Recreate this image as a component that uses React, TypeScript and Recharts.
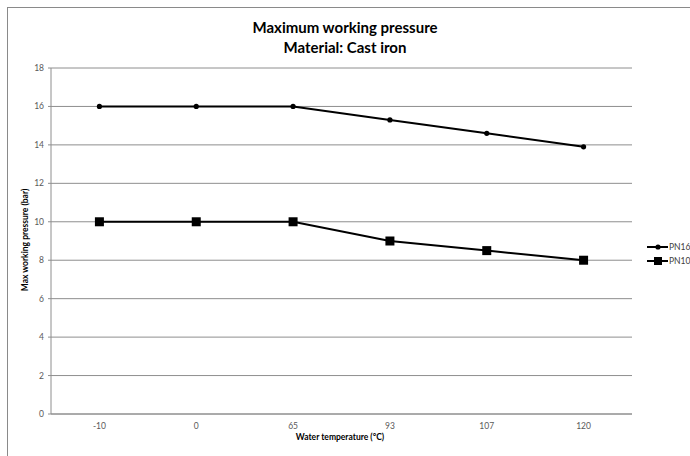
import { LineChart, Line, XAxis, YAxis, CartesianGrid, Legend } from 'recharts';

const temperatures = ['-10', '0', '65', '93', '107', '120'];
const pn16 = [16, 16, 16, 15.3, 14.6, 13.9];
const pn10 = [10, 10, 10, 9, 8.5, 8];
const yTicks = [0, 2, 4, 6, 8, 10, 12, 14, 16, 18];
const boundaryTicks = [0, 1, 2, 3, 4, 5, 6];

const data = temperatures.map((t, i) => ({ t, PN16: pn16[i], PN10: pn10[i] }));

const FONT = 'Lato, "Open Sans", sans-serif';
const GRID = '#8e8e8e';

const SquareDot = (props: any) => {
    const { cx, cy } = props;
    if (cx == null || cy == null) return null;
    return <rect x={cx - 4.5} y={cy - 4.5} width={9} height={9} fill="#000" />;
};

const LegendBox = () => (
    <div style={{ fontFamily: FONT, fontSize: 8.5, color: '#404040' }}>
        {[
            { name: 'PN16', square: false },
            { name: 'PN10', square: true },
        ].map((s) => (
            <div key={s.name} style={{ display: 'flex', alignItems: 'center', height: 14 }}>
                <svg width={22} height={10}>
                    <line x1={0} y1={5} x2={21} y2={5} stroke="#000" strokeWidth={2} />
                    {s.square ? (
                        <rect x={7} y={1} width={8} height={8} fill="#000" />
                    ) : (
                        <circle cx={11} cy={5} r={2.6} fill="#000" />
                    )}
                </svg>
                <span>{s.name}</span>
            </div>
        ))}
    </div>
);

export default function App() {
    return (
        <div style={{ position: 'absolute', left: 0, top: 0, width: 690, height: 456, overflow: 'hidden', background: '#fff' }}>
            <div style={{ position: 'absolute', left: 7, top: 7, width: 720, height: 480, border: '1px solid #8a8a8a' }} />
            <div
                style={{
                    position: 'absolute', left: 0, top: 17, width: 690, textAlign: 'center',
                    fontFamily: FONT, fontWeight: 'bold', fontSize: 15, lineHeight: '20px', color: '#000',
                }}
            >
                Maximum working pressure
                <br />
                Material: Cast iron
            </div>
            <LineChart
                width={690}
                height={456}
                data={data}
                style={{ position: 'absolute', left: 0, top: 0 }}
                margin={{ top: 68, right: 58, bottom: 22, left: 21 }}
            >
                <CartesianGrid vertical={false} stroke={GRID} strokeWidth={1} />
                <XAxis
                    xAxisId="bounds"
                    type="number"
                    domain={[0, 6]}
                    ticks={boundaryTicks}
                    height={0}
                    tick={false}
                    axisLine={false}
                    tickLine={{ stroke: GRID }}
                    tickSize={4}
                />
                <XAxis
                    dataKey="t"
                    scale="band"
                    height={20}
                    axisLine={{ stroke: GRID }}
                    tickLine={false}
                    tick={{ fill: '#595959', fontSize: 8.5, fontFamily: FONT }}
                    tickMargin={3}
                />
                <YAxis
                    domain={[0, 18]}
                    ticks={yTicks}
                    width={30}
                    axisLine={{ stroke: GRID }}
                    tickLine={{ stroke: GRID }}
                    tickSize={3}
                    tick={{ fill: '#595959', fontSize: 8.5, fontFamily: FONT }}
                    tickMargin={4}
                />
                <Legend
                    layout="vertical"
                    align="center"
                    verticalAlign="middle"
                    wrapperStyle={{ left: 647, top: 240, width: 44 }}
                    content={() => <LegendBox />}
                />
                <Line
                    dataKey="PN16"
                    stroke="#000"
                    strokeWidth={2}
                    dot={{ r: 2.6, fill: '#000', stroke: '#000', strokeWidth: 0 }}
                    activeDot={false}
                    isAnimationActive={false}
                />
                <Line
                    dataKey="PN10"
                    stroke="#000"
                    strokeWidth={2}
                    dot={<SquareDot />}
                    activeDot={false}
                    isAnimationActive={false}
                />
            </LineChart>
            <div
                style={{
                    position: 'absolute', left: 0, top: 432, width: 680, textAlign: 'center',
                    fontFamily: FONT, fontWeight: 'bold', fontSize: 8.5, color: '#000',
                }}
            >
                Water temperature (°C)
            </div>
            <div
                style={{
                    position: 'absolute', left: 25, top: 240, width: 200, height: 12, marginLeft: -100, marginTop: -6,
                    transform: 'rotate(-90deg)', textAlign: 'center', lineHeight: '12px',
                    fontFamily: FONT, fontWeight: 'bold', fontSize: 8.5, color: '#000',
                }}
            >
                Max working pressure (bar)
            </div>
        </div>
    );
}
